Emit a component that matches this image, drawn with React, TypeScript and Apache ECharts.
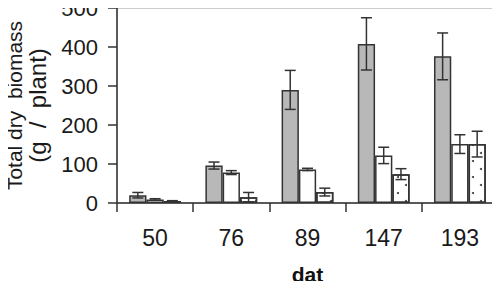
import React, { useEffect, useRef } from "react";
import * as echarts from "echarts";

const categories = ["50", "76", "89", "147", "193"];
const grayValues = [20, 96, 290, 408, 376];
const grayErrors = [7, 9, 50, 67, 60];
const whiteValues = [9, 78, 86, 122, 151];
const whiteErrors = [2, 5, 3, 21, 24];
const dottedValues = [5, 15, 28, 74, 151];
const dottedErrors = [1, 12, 10, 14, 33];
const yTicks = { min: 0, max: 500, interval: 100 };
const yTitleLine1 = "Total dry  biomass";
const yTitleLine2 = "(g  /  plant)";
const xTitle = "dat";

const CAT_GAP = 0.32;
const SERIES_COUNT = 3;

const FONT = "'Liberation Sans', Arial, sans-serif";
const EDGE = "#333333";

function errorSeries(values: number[], errors: number[], slot: number) {
  return {
    type: "custom",
    z: 5,
    silent: true,
    data: values.map((v, i) => [i, v, errors[i]]),
    renderItem: (params: any, api: any) => {
      const idx = api.value(0);
      const val = api.value(1);
      const err = api.value(2);
      const band = api.size([1, 0])[0];
      const barW = (band * (1 - CAT_GAP)) / SERIES_COUNT;
      const base = api.coord([idx, val]);
      const x = base[0] + (slot - (SERIES_COUNT - 1) / 2) * barW;
      const yTop = api.coord([idx, val + err])[1];
      const yBot = api.coord([idx, Math.max(0, val - err)])[1];
      const cap = 5.5;
      const style = { stroke: EDGE, lineWidth: 1.5 };
      return {
        type: "group",
        children: [
          { type: "line", shape: { x1: x, y1: yTop, x2: x, y2: yBot }, style },
          { type: "line", shape: { x1: x - cap, y1: yTop, x2: x + cap, y2: yTop }, style },
          { type: "line", shape: { x1: x - cap, y1: yBot, x2: x + cap, y2: yBot }, style },
        ],
      };
    },
  };
}

export default function App() {
  const ref = useRef<HTMLDivElement>(null);
  useEffect(() => {
    if (!ref.current) return;
    const chart = echarts.init(ref.current, undefined, { renderer: "svg" });
    const barBase = {
      type: "bar",
      barGap: "0%",
      barCategoryGap: `${CAT_GAP * 100}%`,
    };
    chart.setOption({
      animation: false,
      textStyle: { fontFamily: FONT },
      grid: {
        left: 117,
        right: 2,
        top: 8,
        bottom: 86,
        containLabel: false,
        outerBoundsMode: "none",
        show: true,
        borderColor: "#9a9a9a",
        borderWidth: 1,
        backgroundColor: "transparent",
      },
      xAxis: {
        type: "category",
        data: categories,
        name: xTitle,
        nameLocation: "middle",
        nameGap: 61,
        nameMoveOverlap: false,
        nameTextStyle: { fontFamily: FONT, fontSize: 21, fontWeight: "bold", color: "#111" },
        axisLine: { lineStyle: { color: EDGE, width: 1.5 } },
        axisTick: { show: true, length: 9, interval: 0, lineStyle: { color: EDGE, width: 1.5 } },
        axisLabel: { fontFamily: FONT, fontSize: 23, color: "#1a1a1a", margin: 23 },
      },
      yAxis: {
        type: "value",
        min: yTicks.min,
        max: yTicks.max,
        interval: yTicks.interval,
        name: `{a|${yTitleLine1}}\n{b|${yTitleLine2}}`,
        nameLocation: "middle",
        nameGap: 68,
        nameMoveOverlap: false,
        nameTextStyle: {
          fontFamily: FONT,
          color: "#1a1a1a",
          rich: {
            a: { fontFamily: FONT, fontSize: 21, lineHeight: 22, color: "#1a1a1a" },
            b: { fontFamily: FONT, fontSize: 24, lineHeight: 24, color: "#1a1a1a" },
          },
        },
        axisLine: { show: true, lineStyle: { color: EDGE, width: 1.5 } },
        axisTick: { show: true, length: 9, lineStyle: { color: EDGE, width: 1.5 } },
        axisLabel: { fontFamily: FONT, fontSize: 22, color: "#1a1a1a", margin: 19 },
        splitLine: { show: false },
      },
      series: [
        {
          ...barBase,
          data: grayValues,
          itemStyle: { color: "#b8b8b8", borderColor: EDGE, borderWidth: 1.5 },
        },
        {
          ...barBase,
          data: whiteValues,
          itemStyle: { color: "#ffffff", borderColor: EDGE, borderWidth: 1.5 },
        },
        {
          ...barBase,
          data: dottedValues,
          itemStyle: {
            color: "#ffffff",
            borderColor: EDGE,
            borderWidth: 1.5,
            decal: {
              symbol: "circle",
              symbolSize: 1,
              color: "#333333",
              backgroundColor: "#ffffff",
              dashArrayX: [
                [1.8, 12.2],
                [0, 7, 1.8, 5.2],
              ],
              dashArrayY: [1.8, 5.2],
              rotation: 0,
            },
          },
        },
        errorSeries(grayValues, grayErrors, 0),
        errorSeries(whiteValues, whiteErrors, 1),
        errorSeries(dottedValues, dottedErrors, 2),
      ],
    });
    return () => chart.dispose();
  }, []);
  return <div ref={ref} style={{ width: 500, height: 289, margin: -8 }} />;
}
